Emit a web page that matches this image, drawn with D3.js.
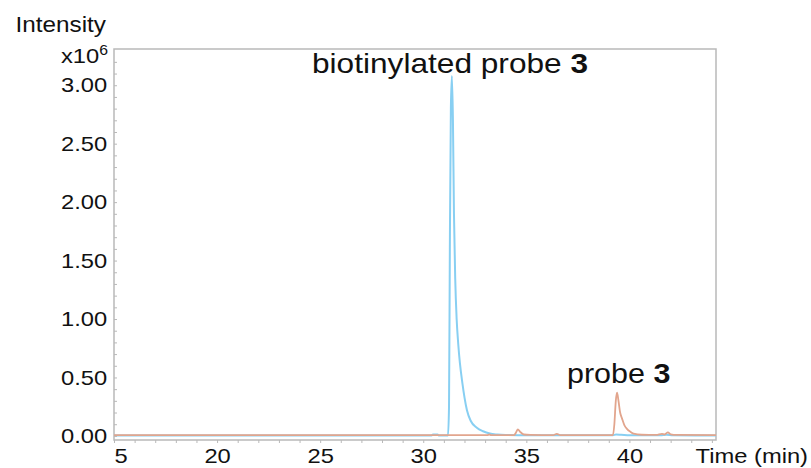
<!DOCTYPE html>
<html>
<head>
<meta charset="utf-8">
<script src="https://cdn.jsdelivr.net/npm/d3@7"></script>
<style>
  html, body { margin: 0; padding: 0; background: #fff; }
  svg { display: block; font-family: "Liberation Sans", Arial, Helvetica, sans-serif; }
</style>
</head>
<body>
<svg id="chart" width="811" height="468"></svg>
<script>
// Retention time (min) and intensity (x10^6) for the two traces
const blueTime = [15, 30.4, 30.47, 30.7, 30.75, 31.2, 31.25, 31.29, 31.34, 31.39, 31.44, 31.49, 31.55, 31.62, 31.7, 31.78, 31.9, 32.0, 32.12, 32.3, 32.6, 32.9, 33.23, 33.6, 34.0, 34.6, 39.2, 39.35, 39.6, 40.0, 41.5, 41.8, 42.1, 44.2];
const blueIntensity = [0.004, 0.004, 0.012, 0.012, 0.004, 0.004, 0.25, 1.6, 2.8, 3.08, 2.7, 1.9, 1.35, 1.0, 0.78, 0.62, 0.45, 0.33, 0.22, 0.13, 0.07, 0.04, 0.02, 0.012, 0.008, 0.006, 0.006, 0.012, 0.01, 0.006, 0.006, 0.01, 0.005, 0.004];

const orangeTime = [15, 33.1, 33.2, 33.3, 34.4, 34.5, 34.59, 34.7, 34.88, 35.2, 36.3, 36.48, 36.65, 39.2, 39.27, 39.34, 39.4, 39.47, 39.55, 39.64, 39.76, 39.88, 40.05, 40.2, 40.6, 41.3, 41.58, 41.7, 41.87, 42.0, 42.3, 44.2];
const orangeIntensity = [0.006, 0.006, 0.012, 0.006, 0.006, 0.03, 0.056, 0.035, 0.012, 0.008, 0.006, 0.018, 0.006, 0.006, 0.1, 0.3, 0.37, 0.3, 0.2, 0.15, 0.09, 0.06, 0.035, 0.02, 0.01, 0.008, 0.018, 0.012, 0.03, 0.014, 0.008, 0.006];

const yTickValues = [0, 0.5, 1.0, 1.5, 2.0, 2.5, 3.0];
const xTickValues = [15, 20, 25, 30, 35, 40];
const xTickLabels = ["5", "20", "25", "30", "35", "40"];

const SX = 1.13; // horizontal stretch of the lettering
const svg = d3.select("#chart");
const plotLeft = 114, plotRight = 716, plotTop = 49, plotBottom = 440;

const x = d3.scaleLinear().domain([15, 44.2]).range([plotLeft, plotRight]);
const y = d3.scaleLinear().domain([-0.035, 3.31]).range([plotBottom, plotTop]);

const frameColor = "#b9b9b9";
const textColor = "#111";

// frame
svg.append("rect")
  .attr("x", plotLeft).attr("y", plotTop)
  .attr("width", plotRight - plotLeft).attr("height", plotBottom - plotTop)
  .attr("fill", "none").attr("stroke", frameColor).attr("stroke-width", 1.5);

// traces
svg.append("clipPath").attr("id", "plot-clip")
  .append("rect").attr("x", plotLeft).attr("y", plotTop)
  .attr("width", plotRight - plotLeft).attr("height", plotBottom - plotTop);

const line = d3.line().x(d => x(d[0])).y(d => y(d[1])).curve(d3.curveMonotoneX);
const traces = svg.append("g").attr("clip-path", "url(#plot-clip)");
traces.append("path")
  .datum(d3.zip(blueTime, blueIntensity))
  .attr("d", line).attr("fill", "none")
  .attr("stroke", "#88cff2").attr("stroke-width", 2).attr("stroke-linejoin", "round");
traces.append("path")
  .datum(d3.zip(orangeTime, orangeIntensity))
  .attr("d", line).attr("fill", "none")
  .attr("stroke", "#e2a58d").attr("stroke-width", 1.8).attr("stroke-linejoin", "round");

// minor ticks
const yMinor = d3.range(0, 33).map(i => i / 10);
svg.append("g").attr("transform", `translate(${plotLeft},0)`)
  .call(d3.axisRight(y).tickValues(yMinor).tickSize(3).tickFormat(""))
  .call(g => g.select(".domain").remove())
  .call(g => g.selectAll("line").attr("stroke", frameColor).attr("stroke-width", 1));

const xMinor = d3.range(15, 45);
svg.append("g").attr("transform", `translate(0,${plotBottom})`)
  .call(d3.axisBottom(x).tickValues(xMinor).tickSize(3).tickFormat(""))
  .call(g => g.select(".domain").remove())
  .call(g => g.selectAll("line").attr("stroke", frameColor).attr("stroke-width", 1));

// y tick labels
svg.append("g").attr("transform", `translate(${plotLeft},0)`)
  .call(d3.axisLeft(y).tickValues(yTickValues).tickSize(0).tickPadding(6).tickFormat(d3.format(".2f")))
  .call(g => g.select(".domain").remove())
  .call(g => g.selectAll("text")
    .attr("font-size", 21).attr("font-family", "Liberation Sans, Arial, sans-serif")
    .attr("fill", textColor).attr("transform", `scale(${SX},1)`));

// x tick labels
svg.append("g").attr("transform", `translate(0,${plotBottom})`)
  .call(d3.axisBottom(x).tickValues(xTickValues).tickSize(0).tickPadding(8)
    .tickFormat((d, i) => xTickLabels[i]))
  .call(g => g.select(".domain").remove())
  .call(g => g.selectAll("text")
    .attr("font-size", 21).attr("font-family", "Liberation Sans, Arial, sans-serif")
    .attr("fill", textColor).attr("transform", `scale(${SX},1)`)
    .attr("text-anchor", (d, i) => i === 0 ? "start" : "middle"));

// text helper with the same stretch
function label(px, py, anchor, size) {
  return svg.append("text")
    .attr("transform", `translate(${px},${py}) scale(${SX},1)`)
    .attr("text-anchor", anchor)
    .attr("font-size", size)
    .attr("fill", textColor);
}

label(106, 32, "end", 21.5).text("Intensity");
const mult = label(108, 63, "end", 21);
mult.append("tspan").text("x10");
mult.append("tspan").attr("dy", -8).attr("font-size", 14).text("6");

label(808, 463, "end", 21).text("Time (min)");

const t1 = label(312, 73, "start", 28);
t1.append("tspan").text("biotinylated probe ");
t1.append("tspan").attr("font-weight", "bold").text("3");

const t2 = label(567, 383, "start", 27);
t2.append("tspan").text("probe ");
t2.append("tspan").attr("font-weight", "bold").text("3");
</script>
</body>
</html>
